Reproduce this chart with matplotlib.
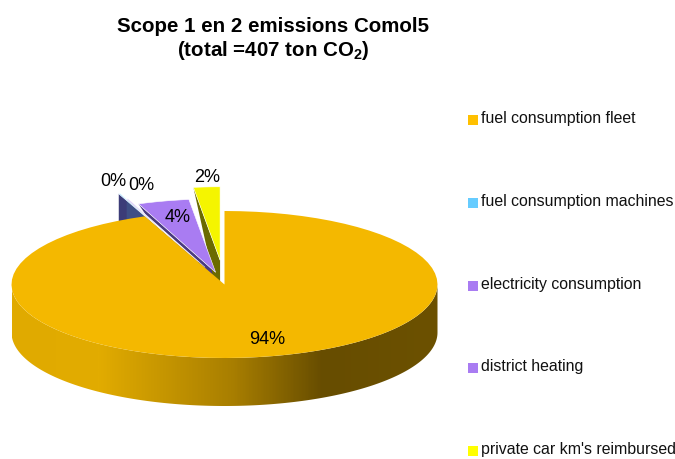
import numpy as np
import matplotlib
matplotlib.use('Agg')
import matplotlib.pyplot as plt
from matplotlib.colors import LinearSegmentedColormap
from matplotlib.patches import Polygon, Rectangle

plt.rcParams['font.family'] = 'Liberation Sans'
plt.rcParams['mathtext.fontset'] = 'custom'
plt.rcParams['mathtext.rm'] = 'Liberation Sans:bold'
plt.rcParams['mathtext.default'] = 'rm'

categories = ['fuel consumption fleet', 'fuel consumption machines', 'electricity consumption',
              'district heating', "private car km's reimbursed"]
values = [93.9, 0.1, 0.1, 3.9, 2.0]
pct_labels = ['94%', '0%', '0%', '4%', '2%']

legend_colors = ['#FFC000', '#66CCFF', '#A97CF2', '#A97CF2', '#FFFF00']
top_colors = ['#F4B800', '#66CCFF', '#A97CF2', '#A97CF2', '#F5F500']
wall_colors = ['#6B5000', '#3C3C78', '#3F4F85', '#4A3A80', '#6B6B00']
explode = [0.0, 0.33, 0.25, 0.17, 0.33]

cx, cy = 224.5, 284.5
rx, ry = 213, 73.5
depth = 48


def ell(deg, r=1.0):
    # degrees clockwise from 12 o'clock
    t = np.radians(deg)
    return np.column_stack([cx + rx * r * np.sin(t), cy - ry * r * np.cos(t)])


fig = plt.figure(figsize=(6.75, 4.59), dpi=100)
ax = fig.add_axes([0, 0, 1, 1])
ax.set_axis_off()

# slice boundaries, fleet starts at 12 o'clock
edges = np.concatenate([[0], np.cumsum(values)]) * 3.6
slices = []
for i in range(len(values)):
    a, b = edges[i], edges[i + 1]
    mid = np.radians((a + b) / 2)
    off = np.array([rx * explode[i] * np.sin(mid), -ry * explode[i] * np.cos(mid)])
    arc = ell(np.linspace(a, b, 80)) + off
    apex = np.array([cx, cy]) + off
    slices.append((arc, apex))

# small slices, back to front
for i in [1, 2, 4, 3]:
    arc, apex = slices[i]
    tip = arc[0]
    if i in (1, 2):
        wall = [tip, apex, apex + [0, depth], tip + [0, depth]]
    else:
        wall = [tip, apex, apex + [0, depth]]
    ax.add_patch(Polygon(wall, closed=True, fc=wall_colors[i], ec='none', zorder=2 + i * 0.1))
    ax.add_patch(Polygon(np.vstack([apex, arc]), closed=True, fc=top_colors[i],
                         ec='white', lw=0.4, zorder=2.5 + i * 0.1))

# fleet slice with its shaded outer wall
front = ell(np.linspace(90, 270, 200))
wall_path = np.vstack([front, front[::-1] + [0, depth]])
wall_poly = Polygon(wall_path, closed=True, fc='none', ec='none', zorder=3)
ax.add_patch(wall_poly)
shade = LinearSegmentedColormap.from_list('shade', [(0, '#E0AA00'), (0.2, '#E2AC00'), (0.52, '#A87E00'),
                                                    (0.73, '#674D00'), (1, '#6C5100')])
img = ax.imshow(np.linspace(0, 1, 400)[None, :], cmap=shade, aspect='auto', zorder=3,
                extent=[cx - rx, cx + rx, cy + ry + depth + 5, cy - 5])
img.set_clip_path(wall_poly)

arc, apex = slices[0]
ax.add_patch(Polygon(np.vstack([apex, arc]), closed=True, fc=top_colors[0], ec='none', zorder=4))

# percentage labels
label_x = [267, 113, 141, 178, 207]
label_y = [340, 181, 186, 218, 177]
for x, y, s in zip(label_x, label_y, pct_labels):
    ax.text(x, y, s, fontsize=13, ha='center', va='center', color='black', zorder=6)

# legend
legend_y = np.linspace(118, 449, 5)
for y, c, name in zip(legend_y, legend_colors, categories):
    ax.add_patch(Rectangle((468, y - 3), 10, 10, fc=c, ec='none'))
    ax.text(481, y + 0.5, name, fontsize=11.4, ha='left', va='center', color='#111111')

ax.text(273, 26, 'Scope 1 en 2 emissions Comol5', fontsize=14.8, fontweight='bold', ha='center', va='center')
ax.text(273, 51, '(total =407 ton CO$_{2}$)', fontsize=14.8, fontweight='bold', ha='center', va='center')

ax.set_xlim(0, 675)
ax.set_ylim(459, 0)
fig.savefig('out.png', dpi=100)
